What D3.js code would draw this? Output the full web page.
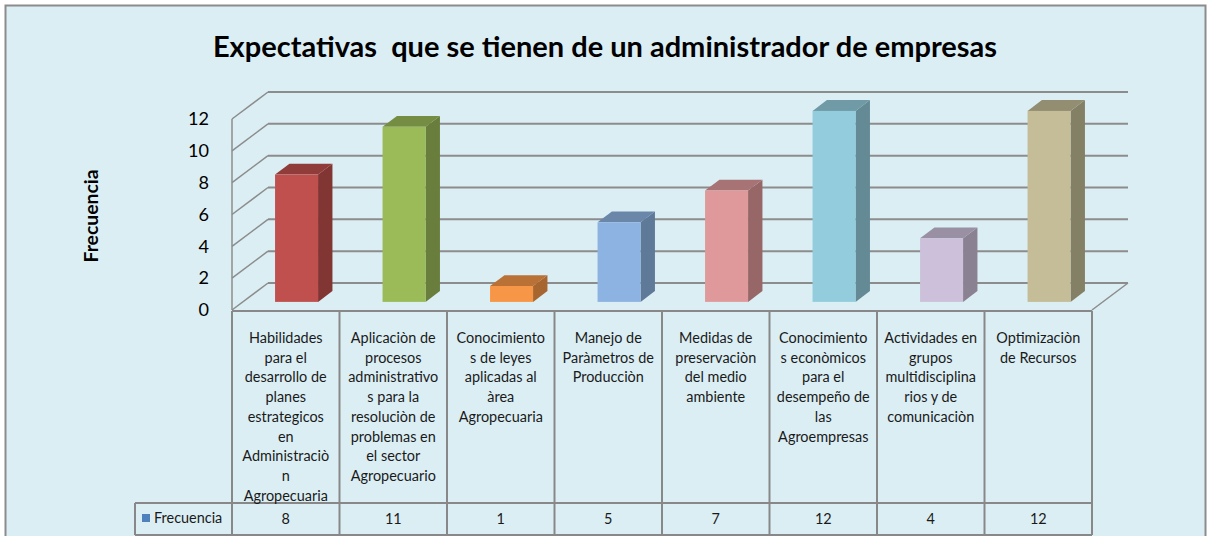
<!DOCTYPE html>
<html><head><meta charset="utf-8">
<script src="https://cdn.jsdelivr.net/npm/d3@7"></script>
<style>body{margin:0;background:#fff}svg{display:block}</style>
</head><body>
<script>
const title = "Expectativas  que se tienen de un administrador de empresas";
const yTitle = "Frecuencia";
const seriesName = "Frecuencia";
const categories = [
  "Habilidades para el desarrollo de planes estrategicos en Administraciòn Agropecuaria",
  "Aplicaciòn de procesos administrativos para la resoluciòn de problemas en el sector Agropecuario",
  "Conocimientos de leyes aplicadas al àrea Agropecuaria",
  "Manejo de Paràmetros de Producciòn",
  "Medidas de preservaciòn del medio ambiente",
  "Conocimientos econòmicos para el desempeño de las Agroempresas",
  "Actividades en grupos multidisciplinarios y de comunicaciòn",
  "Optimizaciòn de Recursos"
];
const categoryLines = [
  ["Habilidades","para el","desarrollo de","planes","estrategicos","en","Administraciò","n","Agropecuaria"],
  ["Aplicaciòn de","procesos","administrativo","s para la","resoluciòn de","problemas en","el sector","Agropecuario"],
  ["Conocimiento","s de leyes","aplicadas al","àrea","Agropecuaria"],
  ["Manejo de","Paràmetros de","Producciòn"],
  ["Medidas de","preservaciòn","del medio","ambiente"],
  ["Conocimiento","s econòmicos","para el","desempeño de","las","Agroempresas"],
  ["Actividades en","grupos","multidisciplina","rios y de","comunicaciòn"],
  ["Optimizaciòn","de Recursos"]
];
const values = [8, 11, 1, 5, 7, 12, 4, 12];
const yTicks = [0, 2, 4, 6, 8, 10, 12];
const barColors = ["#C0504D","#9BBB59","#F79646","#8DB3E2","#E0999A","#93CDDD","#CCC0DA","#C4BD97"];

const W = 1210, H = 536;
const FONT = "Lato, 'Open Sans', sans-serif";
const svg = d3.select("body").append("svg").attr("width", W).attr("height", H);

// size a font so that sample text reaches target width
function fitSize(sample, target, weight, base) {
  const t = svg.append("text").attr("font-family", FONT).attr("font-weight", weight)
    .attr("font-size", base).attr("xml:space", "preserve").style("white-space", "pre").text(sample);
  const w = t.node().getComputedTextLength();
  t.remove();
  return base * target / w;
}

svg.append("rect").attr("x",0).attr("y",0).attr("width",W).attr("height",H).attr("fill","#fff");
svg.append("rect").attr("x",5.5).attr("y",5.5).attr("width",1200).attr("height",540)
  .attr("fill","#DBEEF4").attr("stroke","#8c8c8c").attr("stroke-width",2);

const titleSize = Math.min(29, fitSize(title, 800, "bold", 24));
const labelSize = fitSize("desarrollo de", 82, "normal", 13);
const tickSize = fitSize("12", 21, "normal", 17);
const yTitleSize = fitSize(yTitle, 93, "bold", 14);

// geometry
const left = 232, right = 1092, floorFront = 310;
const depthDx = 36, depthDy = -27;
const x = d3.scaleBand().domain(categories).range([left, right]);
const y = d3.scaleLinear().domain([0, 12]).range([0, 191]);
const grid = "#8c8c8c";

// back wall gridlines + left wall diagonals
const g = svg.append("g");
yTicks.forEach(v => {
  const yb = floorFront + depthDy - y(v), yf = floorFront - y(v);
  g.append("line").attr("x1", left + depthDx).attr("x2", right + depthDx)
    .attr("y1", yb).attr("y2", yb).attr("stroke", grid).attr("stroke-width", 2);
  g.append("line").attr("x1", left).attr("y1", yf).attr("x2", left + depthDx).attr("y2", yb)
    .attr("stroke", grid).attr("stroke-width", 1.5);
});
g.append("line").attr("x1", left).attr("y1", floorFront).attr("x2", left).attr("y2", floorFront - y(12))
  .attr("stroke", grid).attr("stroke-width", 1.5);
g.append("line").attr("x1", right).attr("y1", floorFront).attr("x2", right + depthDx).attr("y2", floorFront + depthDy)
  .attr("stroke", grid).attr("stroke-width", 1.5);

// y tick labels
svg.append("g").selectAll("text").data(yTicks).join("text")
  .attr("x", 209).attr("y", d => floorFront - y(d)).attr("dy", "0.35em")
  .attr("text-anchor", "end").attr("font-family", FONT).attr("font-size", tickSize).attr("fill", "#000")
  .text(d => d);

// y title
svg.append("text").attr("transform", "translate(98,216) rotate(-90)")
  .attr("text-anchor", "middle").attr("font-family", FONT).attr("font-weight", "bold")
  .attr("font-size", yTitleSize).attr("fill", "#000").text(yTitle);

// bars
const f0 = 0.3, f1 = 0.7;
const bars = svg.append("g");
categories.forEach((c, i) => {
  const bw = x.bandwidth();
  const x0 = x(c) + bw * 0.3 + depthDx * f0;
  const x1 = x0 + bw * 0.4;
  const yb = floorFront + depthDy * f0;
  const yt = yb - y(values[i]);
  const ddx = depthDx * (f1 - f0), ddy = depthDy * (f1 - f0);
  const col = d3.color(barColors[i]);
  bars.append("path").attr("d", `M${x1},${yb}L${x1 + ddx},${yb + ddy}L${x1 + ddx},${yt + ddy}L${x1},${yt}Z`)
    .attr("fill", col.darker(1.1));
  bars.append("path").attr("d", `M${x0},${yt}L${x1},${yt}L${x1 + ddx},${yt + ddy}L${x0 + ddx},${yt + ddy}Z`)
    .attr("fill", col.darker(0.8));
  bars.append("rect").attr("x", x0).attr("y", yt).attr("width", x1 - x0).attr("height", yb - yt)
    .attr("fill", col);
});

// title
svg.append("text").attr("x", 605).attr("y", 57).attr("text-anchor", "middle")
  .attr("font-family", FONT).attr("font-weight", "bold").attr("font-size", titleSize).attr("fill", "#000")
  .attr("xml:space", "preserve").style("white-space", "pre").text(title);

// data table
const tTop = 311, tMid = 503, tBot = 535, legLeft = 135;
const tbl = svg.append("g").attr("stroke", "#888").attr("stroke-width", 2);
tbl.append("line").attr("x1", left).attr("x2", right).attr("y1", tTop).attr("y2", tTop);
tbl.append("line").attr("x1", legLeft).attr("x2", right).attr("y1", tMid).attr("y2", tMid);
tbl.append("line").attr("x1", legLeft).attr("x2", right).attr("y1", tBot).attr("y2", tBot);
tbl.append("line").attr("x1", legLeft).attr("x2", legLeft).attr("y1", tMid).attr("y2", tBot);
const bounds = categories.map(c => x(c)).concat([right]);
bounds.forEach(bx => tbl.append("line").attr("x1", bx).attr("x2", bx).attr("y1", tTop).attr("y2", tBot));

// category labels
categories.forEach((c, i) => {
  const cx = x(c) + x.bandwidth() / 2;
  const t = svg.append("text").attr("text-anchor", "middle").attr("font-family", FONT)
    .attr("font-size", labelSize).attr("fill", "#1a1a1a");
  categoryLines[i].forEach((ln, j) => {
    t.append("tspan").attr("x", cx).attr("y", 343 + j * 19.7).text(ln);
  });
  svg.append("text").attr("x", cx).attr("y", 524).attr("text-anchor", "middle")
    .attr("font-family", FONT).attr("font-size", labelSize).attr("fill", "#1a1a1a").text(values[i]);
});

// legend key
svg.append("rect").attr("x", 142).attr("y", 514).attr("width", 8).attr("height", 8).attr("fill", "#4F81BD");
svg.append("text").attr("x", 154).attr("y", 523).attr("font-family", FONT).attr("font-size", labelSize)
  .attr("fill", "#1a1a1a").text(seriesName);
</script>
</body></html>
